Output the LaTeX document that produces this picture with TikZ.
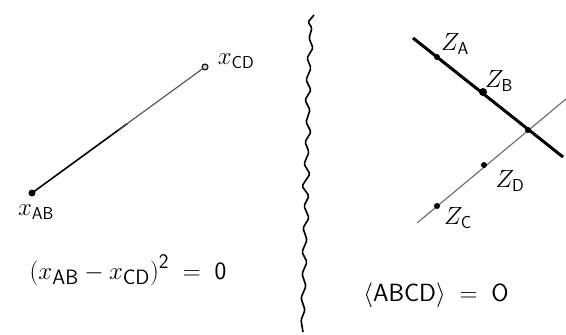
\documentclass[tikz,border=0pt]{standalone}
\usetikzlibrary{calc}
\begin{document}
\begin{tikzpicture}[x=1pt,y=-1pt,
  lbl/.style={inner sep=0pt,font=\fontsize{25}{30}\selectfont},
  eq/.style={inner sep=0pt,font=\fontsize{32}{38}\selectfont},
  eqr/.style={inner sep=0pt,font=\fontsize{31}{37}\selectfont},
  dotp/.style={circle,fill=black,inner sep=0pt,minimum size=6pt},
  hollow/.style={circle,draw=black,fill=gray!40,inner sep=0pt,minimum size=6pt,line width=1pt},
  thickln/.style={line width=3pt,black},
  thinln/.style={line width=1.2pt,black!55}]
\useasboundingbox (0,0) rectangle (566,335);
% left part
\coordinate (ab) at (32,193);
\node[hollow] (cd) at (205,67) {};
\draw[line width=1.6pt,black] (ab) -- ($(ab)!0.55!(cd)$);
\draw[line width=1.1pt,black!70] ($(ab)!0.5!(cd)$) -- (cd);
\node[dotp,minimum size=7pt] (abd) at (ab) {};
\node[lbl] (lcd) at (236,61) {$x_{\mathsf{CD}}$};
\node[lbl] (lab) at (36,212) {$x_{\mathsf{AB}}$};
\node[eq] (eqL) at (128,270) {$\left(x_{\mathsf{AB}} - x_{\mathsf{CD}}\right)^{\mathsf{2}} \;=\; \mathsf{0}$};
% wavy divider
\draw[line width=1.6pt,black,rounded corners=1.5pt]
 (314,15) -- (308,22) -- (312,28) -- (309,38) -- (313,48) -- (307,58) -- (311,68)
 -- (306,80) -- (311,90) -- (305,100) -- (310,110) -- (306,122) -- (311,132)
 -- (305,142) -- (309,152) -- (304,164) -- (310,174) -- (302,186) -- (309,196)
 -- (304,206) -- (309,218) -- (303,228) -- (307,240) -- (302,252) -- (307,262)
 -- (302,274) -- (306,286) -- (301,298) -- (305,310) -- (301,320) -- (303,332);
% right part
\coordinate (t1) at (413,38);
\coordinate (t2) at (563,157);
\coordinate (g1) at (417,223);
\coordinate (g2) at (566,99);
\draw[thinln] (g1) -- (g2);
\draw[thickln] (t1) -- (t2);
\node[dotp] (za) at (437,57) {};
\node[dotp,minimum size=8pt] (zb) at (483,92) {};
\node[dotp] (x) at (528,130) {};
\node[dotp] (zd) at (484,165) {};
\node[dotp] (zc) at (437,206) {};
\node[lbl] (lza) at (455,44) {$Z_{\mathsf{A}}$};
\node[lbl] (lzb) at (499,81) {$Z_{\mathsf{B}}$};
\node[lbl] (lzd) at (510,181) {$Z_{\mathsf{D}}$};
\node[lbl] (lzc) at (458,218) {$Z_{\mathsf{C}}$};
\node[eqr] (eqR) at (436,295) {$\langle\mathsf{ABCD}\rangle \;=\; \mathsf{O}$};
\end{tikzpicture}
\end{document}
